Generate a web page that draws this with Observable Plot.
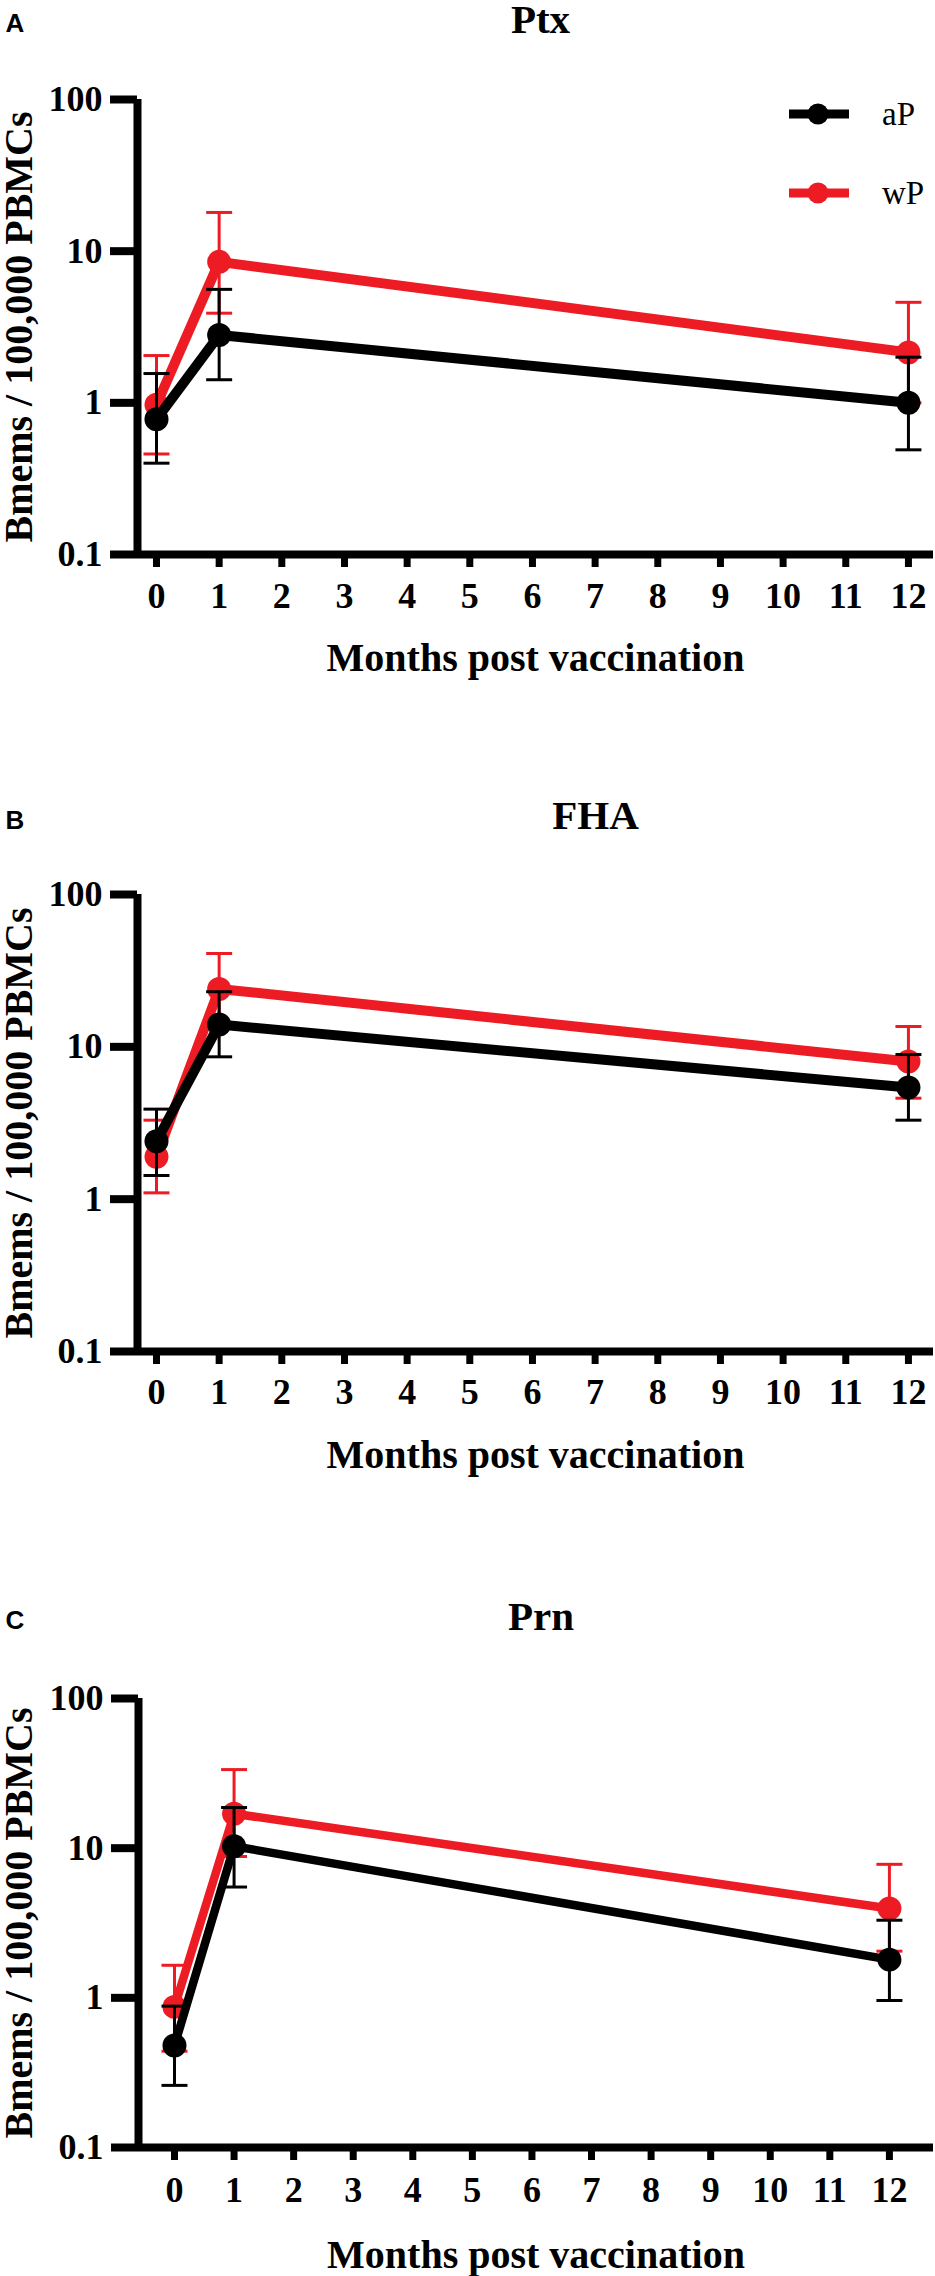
<!DOCTYPE html>
<html>
<head>
<meta charset="utf-8">
<script src="https://cdn.jsdelivr.net/npm/d3@7"></script>
<script src="https://cdn.jsdelivr.net/npm/@observablehq/plot@0.6"></script>
<style>
  html, body { margin: 0; padding: 0; background: #ffffff; }
  #fig { position: relative; width: 935px; background: #ffffff; }
  #fig svg { display: block; font-family: "Liberation Serif", "Times New Roman", serif !important; font-weight: 700 !important; font-size: 36px !important; }
  .legend-item { position: absolute; display: flex; align-items: center; height: 40px; }
  .legend-item span { font-family: "Liberation Serif", "Times New Roman", serif; font-size: 33px; line-height: 40px; margin-left: 33px; color: #000; font-weight: 400; }
</style>
</head>
<body>
<div id="fig"></div>
<script>
// ---------- data ----------
const series = ["aP", "wP"];
const seriesColors = ["#000000", "#ed1c24"];
const months = [0, 1, 12];
const xTicks = [0, 1, 2, 3, 4, 5, 6, 7, 8, 9, 10, 11, 12];
const xTickLabels = ["0", "1", "2", "3", "4", "5", "6", "7", "8", "9", "10", "11", "12"];
const yTicks = [0.1, 1, 10, 100];
const yTickLabels = ["0.1", "1", "10", "100"];
const panelLetters = ["A", "B", "C"];
const panelTitles = ["Ptx", "FHA", "Prn"];
const xLabel = "Months post vaccination";
const yLabel = "Bmems / 100,000 PBMCs";

// Ptx
const ptxAP = [0.78, 2.8, 1.0];
const ptxAPLo = [0.40, 1.42, 0.49];
const ptxAPHi = [1.56, 5.6, 2.0];
const ptxWP = [0.97, 8.5, 2.15];
const ptxWPLo = [0.46, 3.9, 1.0];
const ptxWPHi = [2.05, 18, 4.6];
// FHA
const fhaAP = [2.4, 14, 5.4];
const fhaAPLo = [1.43, 8.6, 3.3];
const fhaAPHi = [3.9, 23, 8.9];
const fhaWP = [1.9, 24, 8.0];
const fhaWPLo = [1.10, 14, 4.6];
const fhaWPHi = [3.3, 41, 13.6];
// Prn
const prnAP = [0.48, 10.3, 1.8];
const prnAPLo = [0.26, 5.5, 0.96];
const prnAPHi = [0.88, 18.7, 3.3];
const prnWP = [0.87, 17, 3.95];
const prnWPLo = [0.44, 8.8, 2.05];
const prnWPHi = [1.65, 33.5, 7.8];

// ---------- build ----------
function rowsFor(name, mean, lo, hi) {
  return months.map((m, i) => ({ month: m, series: name, value: mean[i], lo: lo[i], hi: hi[i] }));
}
const panelData = [
  { aP: rowsFor("aP", ptxAP, ptxAPLo, ptxAPHi), wP: rowsFor("wP", ptxWP, ptxWPLo, ptxWPHi) },
  { aP: rowsFor("aP", fhaAP, fhaAPLo, fhaAPHi), wP: rowsFor("wP", fhaWP, fhaWPLo, fhaWPHi) },
  { aP: rowsFor("aP", prnAP, prnAPLo, prnAPHi), wP: rowsFor("wP", prnWP, prnWPLo, prnWPHi) }
];

// title centre y / letter centre y measured from svg top; x label centre from frame bottom
const layout = [
  { height: 795, top: 99, bottom: 241, left: 137, xDomain: [-0.303, 12.4], titleDx: 5, titleY: 19, letterY: 23, xLabelDy: 104, tickLabelDy: 28, lineW: 10 },
  { height: 801, top: 99, bottom: 245, left: 137, xDomain: [-0.303, 12.4], titleDx: 60, titleY: 20, letterY: 25, xLabelDy: 104, tickLabelDy: 27, lineW: 10 },
  { height: 680, top: 102, bottom: 129, left: 138, xDomain: [-0.604, 12.74], titleDx: 5, titleY: 20, letterY: 24, xLabelDy: 108, tickLabelDy: 29, lineW: 8.5 }
];

const serif = "Liberation Serif";
const sans = "Liberation Sans";

const capSymbol = {
  draw(context, size) {
    const h = Math.sqrt(size / Math.PI);
    context.moveTo(-h, 0);
    context.lineTo(h, 0);
  }
};

function seriesMarks(rows, L) {
  return [
    Plot.ruleX(rows, { x: "month", y1: "lo", y2: "hi", stroke: "series", strokeWidth: 3 }),
    Plot.dot(rows, { x: "month", y: "hi", r: 13, symbol: capSymbol, stroke: "series", fill: "none", strokeWidth: 3 }),
    Plot.dot(rows, { x: "month", y: "lo", r: 13, symbol: capSymbol, stroke: "series", fill: "none", strokeWidth: 3 }),
    Plot.line(rows, { x: "month", y: "value", stroke: "series", strokeWidth: L.lineW, curve: "linear" }),
    Plot.dot(rows, { x: "month", y: "value", r: 12, fill: "series", stroke: "none" })
  ];
}

const fig = document.getElementById("fig");

panelData.forEach((d, p) => {
  const L = layout[p];
  const chart = Plot.plot({
    width: 935,
    height: L.height,
    marginLeft: L.left,
    marginRight: 2,
    marginTop: L.top,
    marginBottom: L.bottom,
    style: { background: "#ffffff", color: "#000", overflow: "visible" },
    x: { domain: L.xDomain, axis: null },
    y: { type: "log", domain: [0.1, 100], axis: null },
    color: { domain: series, range: seriesColors },
    marks: [
      // axis ticks (labels drawn as text marks below)
      Plot.axisY({ ticks: yTicks, label: null, tickSize: 27, strokeWidth: 8, tickFormat: () => "" }),
      Plot.axisX({ ticks: xTicks, label: null, tickSize: 13, strokeWidth: 7, tickFormat: () => "" }),
      Plot.ruleY([0.1], { strokeWidth: 8 }),
      Plot.ruleX([L.xDomain[0]], { strokeWidth: 8 }),
      // tick labels
      Plot.text(yTicks, { y: (v) => v, text: (v, i) => yTickLabels[i], frameAnchor: "left", dx: -35, textAnchor: "end", lineAnchor: "middle", fontSize: 36, fontWeight: "bold", fontFamily: serif }),
      Plot.text(xTicks, { x: (v) => v, text: (v, i) => xTickLabels[i], frameAnchor: "bottom", dy: L.tickLabelDy, textAnchor: "middle", lineAnchor: "top", fontSize: 36, fontWeight: "bold", fontFamily: serif }),
      // data: wP first, aP on top
      ...seriesMarks(d.wP, L),
      ...seriesMarks(d.aP, L),
      // labels
      Plot.text([xLabel], { frameAnchor: "bottom", textAnchor: "middle", lineAnchor: "middle", dy: L.xLabelDy, fontSize: 40, fontWeight: "bold", fontFamily: serif }),
      Plot.text([yLabel], { frameAnchor: "left", textAnchor: "middle", lineAnchor: "middle", dx: 19 - L.left, rotate: -90, fontSize: 40, fontWeight: "bold", fontFamily: serif }),
      Plot.text([panelTitles[p]], { frameAnchor: "top", textAnchor: "middle", lineAnchor: "middle", dx: L.titleDx, dy: L.titleY - L.top, fontSize: 41, fontWeight: "bold", fontFamily: serif }),
      Plot.text([panelLetters[p]], { frameAnchor: "top-left", textAnchor: "start", lineAnchor: "middle", dx: 5 - L.left, dy: L.letterY - L.top, fontSize: 26, fontWeight: "bold", fontFamily: sans })
    ]
  });
  fig.appendChild(chart);
});

// legend (panel A)
series.forEach((s, i) => {
  const item = document.createElement("div");
  item.className = "legend-item";
  item.style.left = "789px";
  item.style.top = (94 + i * 79) + "px";
  const ns = "http://www.w3.org/2000/svg";
  const sw = document.createElementNS(ns, "svg");
  sw.setAttribute("width", "60");
  sw.setAttribute("height", "40");
  const ln = document.createElementNS(ns, "line");
  ln.setAttribute("x1", "0"); ln.setAttribute("x2", "60");
  ln.setAttribute("y1", "20"); ln.setAttribute("y2", "20");
  ln.setAttribute("stroke", seriesColors[i]); ln.setAttribute("stroke-width", "9");
  const c = document.createElementNS(ns, "circle");
  c.setAttribute("cx", "29"); c.setAttribute("cy", "20"); c.setAttribute("r", "10.5");
  c.setAttribute("fill", seriesColors[i]);
  sw.appendChild(ln); sw.appendChild(c);
  const t = document.createElement("span");
  t.textContent = s;
  item.appendChild(sw); item.appendChild(t);
  fig.appendChild(item);
});
</script>
</body>
</html>
